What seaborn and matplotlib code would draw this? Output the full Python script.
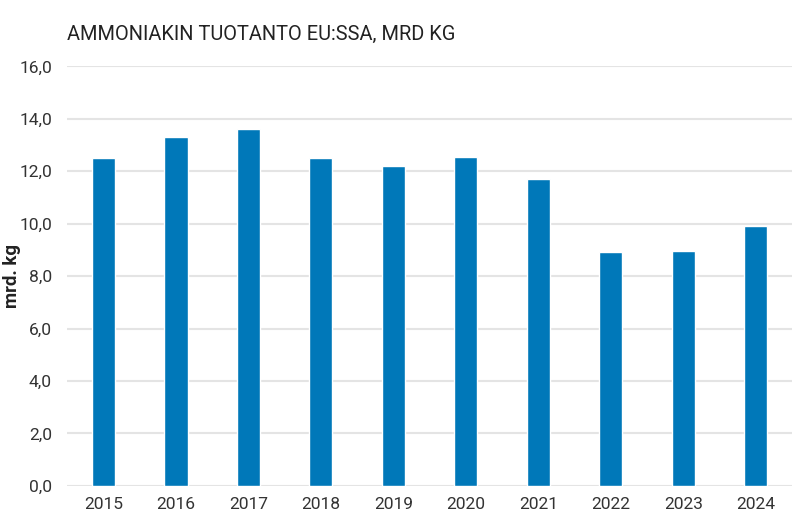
import matplotlib
matplotlib.use("Agg")
import matplotlib.pyplot as plt
import pandas as pd
import seaborn as sns

years = ["2015", "2016", "2017", "2018", "2019", "2020", "2021", "2022", "2023", "2024"]
production = [12.5, 13.3, 13.6, 12.5, 12.2, 12.55, 11.7, 8.93, 8.97, 9.9]
y_ticks = [0, 2, 4, 6, 8, 10, 12, 14, 16]
y_tick_labels = ["0,0", "2,0", "4,0", "6,0", "8,0", "10,0", "12,0", "14,0", "16,0"]

df = pd.DataFrame({"year": years, "value": production})

sns.set_theme(style="white")
plt.rcParams["font.family"] = ["Roboto", "DejaVu Sans"]

fig = plt.figure(figsize=(8, 5.27), dpi=100)
ax = fig.add_axes([0.084, 0.078, 0.906, 0.796])

sns.barplot(data=df, x="year", y="value", color="#0078b9", width=0.32,
            saturation=1, ax=ax, zorder=3)

ax.set_xlim(-0.5, 9.5)
ax.set_ylim(0, 16)
ax.set_yticks(y_ticks)
ax.set_yticklabels(y_tick_labels)
ax.yaxis.grid(True, color="#e4e4e4", linewidth=1.5, zorder=0)
ax.set_axisbelow(True)
for s in ax.spines.values():
    s.set_visible(False)
ax.tick_params(axis="both", length=0, labelsize=12.5, colors="#333333")
ax.tick_params(axis="y", pad=11)
ax.tick_params(axis="x", pad=8)
ax.set_xlabel("")
ax.set_ylabel("mrd. kg", fontsize=13.5, fontweight="bold", color="#222222")
ax.yaxis.set_label_coords(-0.064, 0.5)

fig.text(0.084, 0.935, "AMMONIAKIN TUOTANTO EU:SSA, MRD KG", fontsize=14.4,
         color="#222222", ha="left", va="center")

fig.savefig("out.png", dpi=100)
